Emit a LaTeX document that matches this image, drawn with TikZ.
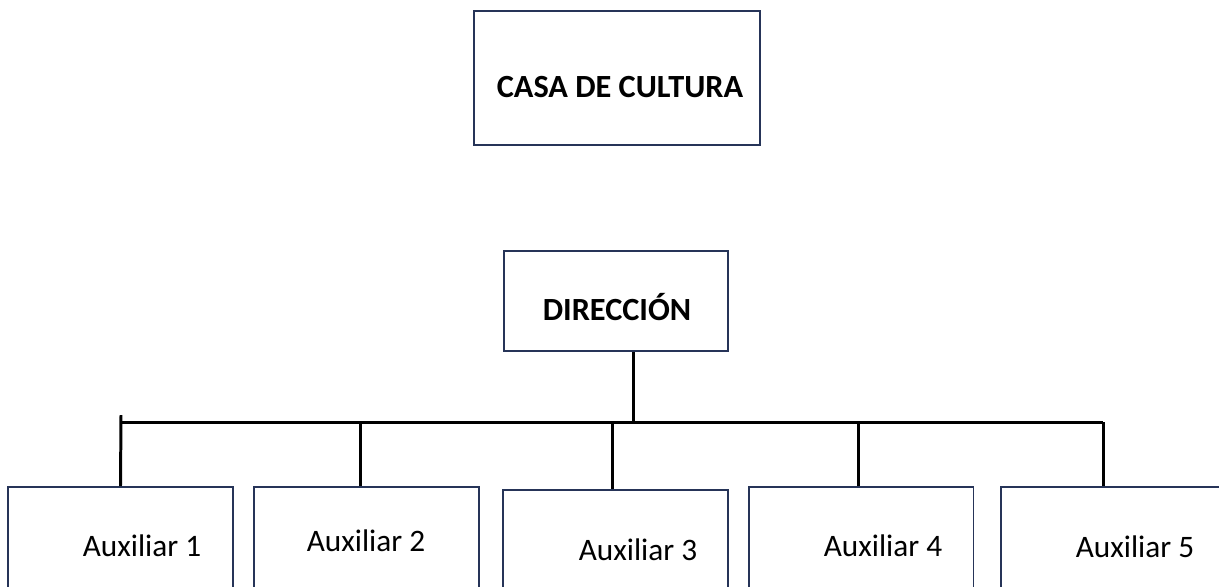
\documentclass[tikz,border=0pt]{standalone}
\usepackage{fontspec}
\setmainfont{Carlito}
\usetikzlibrary{positioning}

\definecolor{boxline}{RGB}{38,52,88}

\begin{document}
\begin{tikzpicture}[
    x=0.02cm, y=-0.02cm,
    box/.style={
        rectangle,
        draw=boxline,
        line width=1.1pt,
        inner sep=0pt
    },
    title/.style={
        anchor=base,
        inner sep=0pt,
        font=\fontsize{18.4}{20}\selectfont\bfseries
    },
    auxtext/.style={
        anchor=base,
        inner sep=0pt,
        font=\fontsize{17.8}{20}\selectfont
    },
    link/.style={draw=black, line width=1.7pt}
]

\useasboundingbox (0,0) rectangle (1219,586);
\clip (0,0) rectangle (1219,586);

% Top boxes
\node[box, minimum width=5.72cm, minimum height=2.68cm] (casa) at (617,78) {};
\node[title] (casatext) at (620,97) {CASA DE CULTURA};

\node[box, minimum width=4.48cm, minimum height=2cm] (dir) at (616,301) {};
\node[title] (dirtext) at (617,320) {DIRECCIÓN};

% Bottom boxes
\node[box, minimum width=4.5cm, minimum height=2.8cm] (aux1) at (120.5,557) {};
\node[box, minimum width=4.5cm, minimum height=2.8cm] (aux2) at (366.5,557) {};
\node[box, minimum width=4.5cm, minimum height=2.8cm] (aux3) at (615.5,560) {};
\node[box, minimum width=4.5cm, minimum height=2.8cm] (aux4) at (861,557) {};
\node[box, minimum width=6cm, minimum height=2.8cm] (aux5) at (1151,557) {};

\node[auxtext] (aux1text) at (142,556) {Auxiliar 1};
\node[auxtext] (aux2text) at (366,551) {Auxiliar 2};
\node[auxtext] (aux3text) at (638,560) {Auxiliar 3};
\node[auxtext] (aux4text) at (883,556) {Auxiliar 4};
\node[auxtext] (aux5text) at (1135,557) {Auxiliar 5};

% Connectors
\coordinate (bus) at (633,422);
\coordinate (tick) at (121,415);
\coordinate (drop5) at (1103,422);

\draw[link] (dir.south -| bus) -- (bus);
\draw[link] (aux1.north |- bus) -- (drop5);
\draw[link] (aux1.north) -- (tick);
\draw[link] ([xshift=-0.13cm]aux2.north) -- ([xshift=-0.13cm]aux2.north |- bus);
\draw[link] ([xshift=-0.07cm]aux3.north) -- ([xshift=-0.07cm]aux3.north |- bus);
\draw[link] ([xshift=-0.06cm]aux4.north) -- ([xshift=-0.06cm]aux4.north |- bus);
\draw[link] (aux5.north -| drop5) -- (drop5);

\end{tikzpicture}
\end{document}
